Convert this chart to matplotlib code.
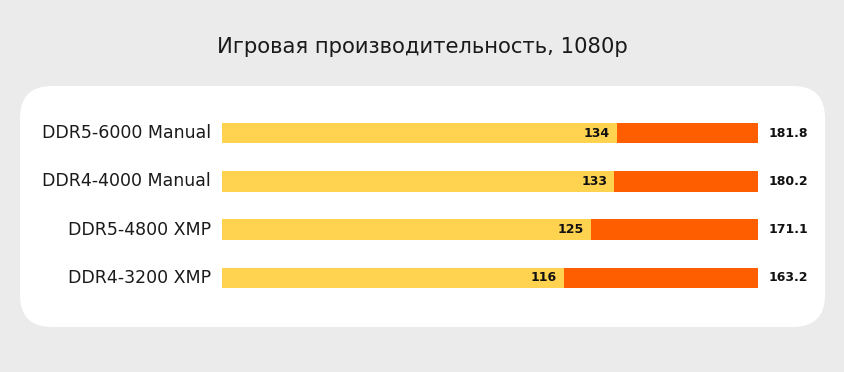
import matplotlib
matplotlib.use("Agg")
import matplotlib.pyplot as plt
from matplotlib.patches import FancyBboxPatch

categories = ["DDR5-6000 Manual", "DDR4-4000 Manual", "DDR5-4800 XMP", "DDR4-3200 XMP"]
low_fps = [134, 133, 125, 116]
avg_fps = [181.8, 180.2, 171.1, 163.2]
title = "Игровая производительность, 1080p"

YELLOW = "#FFD24F"
ORANGE = "#FF5E00"
BG = "#EBEBEB"
FONT = ["DejaVu Sans"]

W, H = 844, 372
fig = plt.figure(figsize=(W / 100, H / 100), dpi=100, facecolor=BG)

# background panel
bg = fig.add_axes([0, 0, 1, 1])
bg.set_xlim(0, W)
bg.set_ylim(H, 0)
bg.axis("off")
bg.add_patch(FancyBboxPatch((20, 86), 805, 241,
                            boxstyle="round,pad=0,rounding_size=32",
                            facecolor="white", edgecolor="none"))
bg.text(W / 2, 47, title, ha="center", va="center", fontsize=15.2,
        color="#1a1a1a", family=FONT)

ax = fig.add_axes([222 / W, 1 - 302 / H, (758 - 222) / W, (302 - 109) / H])
ax.set_facecolor("none")
ymax = max(avg_fps)
ys = list(range(len(categories)))
ax.barh(ys, low_fps, height=0.42, color=YELLOW)
ax.barh(ys, [ymax - v for v in low_fps], left=low_fps, height=0.42, color=ORANGE)
ax.set_xlim(0, ymax)
ax.set_ylim(len(categories) - 0.5, -0.5)
ax.axis("off")

for y, cat, lo, av in zip(ys, categories, low_fps, avg_fps):
    ax.annotate(cat, (0, y), xytext=(-8, 0), textcoords="offset points",
                ha="right", va="center", fontsize=12.5, color="#1a1a1a", family=FONT)
    ax.annotate(f"{lo}", (lo, y), xytext=(-5, 0), textcoords="offset points",
                ha="right", va="center", fontsize=9, fontweight="bold",
                color="#111111", family=FONT)
    ax.annotate(f"{av}", (ymax, y), xytext=(7.5, 0), textcoords="offset points",
                ha="left", va="center", fontsize=9, fontweight="bold",
                color="#111111", family=FONT)

fig.savefig("out.png", dpi=100, facecolor=BG)
